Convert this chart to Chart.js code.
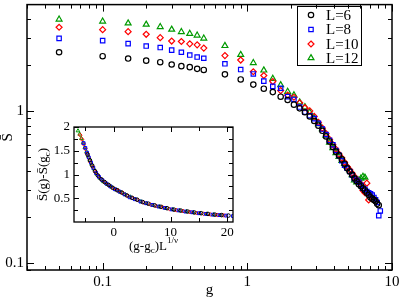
<!DOCTYPE html>
<html><head><meta charset="utf-8">
<script src="https://cdn.jsdelivr.net/npm/chart.js@4"></script>
<style>
html,body{margin:0;padding:0;background:#fff;overflow:hidden;}
#wrap{position:relative;width:399px;height:299px;}
#mainBox{position:absolute;left:0;top:0;width:399px;height:299px;}
#insetBox{position:absolute;left:30px;top:118px;width:212px;height:140px;}
</style></head><body>
<div id="wrap"><div id="mainBox"><canvas id="main"></canvas></div><div id="insetBox"><canvas id="inset"></canvas></div></div>
<script>
// ---------- data ----------
const seriesLabels = ['L=6', 'L=8', 'L=10', 'L=12'];
const gValues = [0.05,0.1,0.15,0.2,0.25,0.3,0.35,0.4,0.45,0.5,
  0.7,0.9,1.1,1.3,1.5,1.7,1.9,2.1,2.3,2.5,2.7,2.9,3.1,3.3,3.5,3.7,3.9,4.1,4.3,4.5,
  4.7,4.9,5.1,5.3,5.5,5.7,5.9,6.1,6.3,6.5,6.7,6.9,7.1,7.3,7.5,7.7,7.9,8.1,8.3];
const sL6 = [2.43,2.29,2.21,2.14,2.09,2.02,1.97,1.94,1.89,1.86,
  1.74,1.61,1.49,1.40,1.33,1.24,1.18,1.10,1.04,0.98,0.92,0.86,0.80,0.74,0.68,0.63,0.58,0.54,0.51,0.48,
  0.45,0.42,0.40,0.38,0.36,0.345,0.33,0.32,0.31,0.30,0.29,0.28,0.27,0.265,0.26,0.255,0.245,0.24,null];
const sL8 = [3.00,2.90,2.77,2.67,2.61,2.51,2.43,2.33,2.26,2.22,
  2.04,1.87,1.75,1.57,1.45,1.41,1.24,1.19,1.06,0.98,0.93,0.89,0.83,0.76,0.70,0.64,0.60,0.55,0.51,0.47,
  0.44,0.42,0.40,0.38,0.36,0.35,0.34,0.325,0.31,0.305,0.295,0.29,0.285,0.28,0.27,0.26,0.25,0.205,0.22];
const sL10 = [3.55,3.42,3.32,3.19,3.03,2.88,2.86,2.76,2.72,2.59,
  2.31,2.16,1.81,1.71,1.56,1.36,1.27,1.23,1.13,1.05,1.00,0.92,0.84,0.77,0.71,0.65,0.60,0.56,0.52,0.49,
  0.46,0.43,0.41,0.39,0.37,0.355,0.34,0.33,0.30,0.29,0.335,0.26,null,null,null,null,null,null,null];
const sL12 = [4.00,3.88,3.77,3.70,3.57,3.43,3.31,3.22,3.14,3.00,
  2.68,2.34,2.07,1.85,1.63,1.48,1.34,1.27,1.14,1.06,0.98,0.90,0.82,0.76,0.69,0.62,0.57,0.53,0.50,0.47,
  0.45,0.43,0.41,0.38,0.35,0.34,0.35,0.36,0.37,0.365,null,null,null,null,null,null,null,null,null];

// inset: scaled variable (g-gc)L^{1/nu} and S(g)-S(gc)
const insetX_L6 = [-4.6,-4.2,-3.8,-3.3,-2.8,-2.2,-1.6,-0.9,-0.2,0.6,1.4,2.3,3.2,4.1,5.1,6.1,7.2,8.3,9.4,10.6,11.8,13.0,14.2,15.4,16.6,17.8,19.0,20.2];
const insetY_L6 = [1.42,1.30,1.19,1.07,0.98,0.90,0.84,0.78,0.72,0.67,0.62,0.56,0.51,0.47,0.42,0.385,0.35,0.32,0.29,0.26,0.24,0.22,0.20,0.185,0.17,0.155,0.145,0.135];
const insetX_L8 = [-5.3,-5.0,-4.7,-4.4,-4.0,-3.6,-3.1,-2.6,-2.0,-1.3,-0.6,0.2,1.0,1.9,2.8,3.7,4.7,5.7,6.8,7.9,9.0,10.2,11.4,12.6,13.8,15.0,16.2,17.4,18.6,19.8,21.0];
const insetY_L8 = [1.66,1.56,1.46,1.36,1.25,1.14,1.03,0.95,0.88,0.81,0.75,0.69,0.64,0.58,0.52,0.48,0.43,0.395,0.36,0.325,0.295,0.265,0.245,0.22,0.205,0.185,0.17,0.155,0.145,0.135,0.125];
const insetX_L10 = [-5.9,-5.6,-5.3,-5.0,-4.7,-4.4,-4.1,-3.7,-3.2,-2.7,-2.1,-1.5,-0.8,0.0,0.8,1.6,2.5,3.4,4.3,5.3,6.4,7.5,8.6,9.8,11.0,12.2,13.4,14.6,15.8,17.0,18.2,19.4];
const insetY_L10 = [1.83,1.74,1.64,1.54,1.44,1.35,1.26,1.16,1.05,0.96,0.89,0.83,0.77,0.71,0.66,0.61,0.55,0.50,0.46,0.41,0.37,0.335,0.31,0.275,0.25,0.23,0.21,0.19,0.175,0.16,0.15,0.14];
const insetX_L12 = [-6.3,-6.0,-5.7,-5.4,-5.1,-4.8,-4.5,-4.2,-3.9,-3.5,-3.0,-2.4,-1.8,-1.1,-0.4,0.4,1.2,2.0,2.9,3.8,4.8,5.8,6.9,8.0,9.2,10.4,11.6,12.8,14.0,15.2,16.4,17.6,18.8];
const insetY_L12 = [1.92,1.85,1.76,1.67,1.57,1.48,1.39,1.30,1.22,1.12,1.01,0.92,0.85,0.79,0.74,0.68,0.63,0.58,0.53,0.48,0.43,0.39,0.355,0.325,0.29,0.265,0.24,0.22,0.20,0.185,0.17,0.155,0.145];

// tick values
const mainXMajor = [0.1, 1, 10];
const mainXMinor = [0.03,0.04,0.05,0.06,0.07,0.08,0.09,0.2,0.3,0.4,0.5,0.6,0.7,0.8,0.9,2,3,4,5,6,7,8,9];
const mainYMajor = [0.1, 1];
const mainYMinor = [0.09,0.2,0.3,0.4,0.5,0.6,0.7,0.8,0.9,2,3,4];
const insetXMajor = [0, 10, 20];
const insetXMinor = [-5, 5, 15];
const insetYMajor = [0.5, 1, 1.5, 2];
const insetYMinor = [0.25, 0.75, 1.25, 1.75];

// ---------- styling ----------
const SERIF = "'Liberation Serif','Times New Roman','DejaVu Serif',serif";
const styles = [
  {color:'#000000', pointStyle:'circle',   r:2.7, ri:1.8},
  {color:'#0000ff', pointStyle:'rect',     r:3.1, ri:2.0},
  {color:'#ff0000', pointStyle:'rectRot',  r:3.0, ri:1.9},
  {color:'#009a00', pointStyle:'triangle', r:3.4, ri:2.1}
];
const mainSeries = [sL6, sL8, sL10, sL12];
const insetSeries = [[insetX_L6,insetY_L6],[insetX_L8,insetY_L8],[insetX_L10,insetY_L10],[insetX_L12,insetY_L12]];

function pts(xs, ys){ const o=[]; xs.forEach((x,i)=>{ if(ys[i]!=null) o.push({x:x,y:ys[i]}); }); return o; }

function frameTicksPlugin(id){
  return {
    id: id,
    afterDatasetsDraw(chart, args, o){
      const ctx = chart.ctx, a = chart.chartArea, xs = chart.scales.x, ys = chart.scales.y;
      ctx.save();
      ctx.strokeStyle = '#000';
      ctx.lineWidth = o.tw;
      ctx.beginPath();
      const xt = o.xMajor.map(v=>[v,o.maj]).concat(o.xMinor.map(v=>[v,o.min]));
      const yt = o.yMajor.map(v=>[v,o.maj]).concat(o.yMinor.map(v=>[v,o.min]));
      xt.forEach(([v,L])=>{ const p = Math.round(xs.getPixelForValue(v))+0.5;
        if (p < a.left-0.5 || p > a.right+0.5) return;
        ctx.moveTo(p,a.bottom); ctx.lineTo(p,a.bottom-L); ctx.moveTo(p,a.top); ctx.lineTo(p,a.top+L); });
      yt.forEach(([v,L])=>{ const p = Math.round(ys.getPixelForValue(v))+0.5;
        if (p < a.top-0.5 || p > a.bottom+0.5) return;
        ctx.moveTo(a.left,p); ctx.lineTo(a.left+L,p); ctx.moveTo(a.right,p); ctx.lineTo(a.right-L,p); });
      ctx.stroke();
      ctx.lineWidth = o.lw;
      ctx.strokeRect(a.left, a.top, a.right-a.left, a.bottom-a.top);
      ctx.restore();
    }
  };
}

function drawMarker(ctx, style, x, y, r){
  ctx.beginPath();
  if (style==='circle'){ ctx.arc(x,y,r,0,Math.PI*2); }
  else if (style==='rect'){ const s=r*Math.SQRT1_2; ctx.rect(x-s,y-s,2*s,2*s); }
  else if (style==='rectRot'){ ctx.moveTo(x,y-r); ctx.lineTo(x+r,y); ctx.lineTo(x,y+r); ctx.lineTo(x-r,y); ctx.closePath(); }
  else { const w=r*Math.sin(Math.PI/3); ctx.moveTo(x,y-r); ctx.lineTo(x+w,y+r/2); ctx.lineTo(x-w,y+r/2); ctx.closePath(); }
  ctx.stroke();
}

const mainDecor = {
  id: 'mainDecor',
  afterDraw(chart){
    const ctx = chart.ctx, a = chart.chartArea;
    ctx.save();
    ctx.fillStyle = '#000';
    ctx.font = '15px ' + SERIF;
    // x title
    ctx.textAlign = 'center'; ctx.textBaseline = 'alphabetic';
    ctx.fillText('g', (a.left+a.right)/2, 294);
    // y title
    ctx.save();
    ctx.translate(12, (a.top+a.bottom)/2);
    ctx.rotate(-Math.PI/2);
    ctx.fillText('S\u0304', 0, 0);
    ctx.restore();
    // legend
    ctx.lineWidth = 1;
    ctx.strokeStyle = '#000';
    ctx.strokeRect(297.5, 6.5, 64, 59);
    const ly = [15, 29.5, 44, 58];
    ctx.textAlign = 'left'; ctx.textBaseline = 'middle';
    chart.data.datasets.forEach((ds,i)=>{
      ctx.strokeStyle = styles[i].color; ctx.lineWidth = 1.2;
      drawMarker(ctx, styles[i].pointStyle, 311, ly[i], styles[i].r);
      ctx.fillStyle = '#000';
      ctx.fillText(ds.label, 326, ly[i]+1);
    });
    ctx.restore();
  }
};

const insetDecor = {
  id: 'insetDecor',
  afterDraw(chart){
    const ctx = chart.ctx, a = chart.chartArea;
    ctx.save();
    ctx.fillStyle = '#000';
    ctx.textBaseline = 'alphabetic';
    const big = '13px ' + SERIF, small = '9px ' + SERIF;
    function rich(parts){
      let w = 0;
      parts.forEach(p=>{ ctx.font = p.s ? small : big; p.w = ctx.measureText(p.t).width; w += p.w; });
      return w;
    }
    function drawRich(parts, x0, y0){
      let x = x0;
      parts.forEach(p=>{ ctx.font = p.s ? small : big; ctx.textAlign='left'; ctx.fillText(p.t, x, y0 + (p.dy||0)); x += p.w; });
    }
    const xt = [{t:'(g-g'},{t:'c',s:1,dy:3},{t:')L'},{t:'1/\u03bd',s:1,dy:-7}];
    const wx = rich(xt);
    drawRich(xt, (a.left+a.right)/2 - wx/2, 132);
    const yt = [{t:'S\u0304(g)-S\u0304(g'},{t:'c',s:1,dy:3},{t:')'}];
    const wy = rich(yt);
    ctx.save();
    ctx.translate(17, (a.top+a.bottom)/2);
    ctx.rotate(-Math.PI/2);
    drawRich(yt, -wy/2, 0);
    ctx.restore();
    ctx.restore();
  }
};

// ---------- main chart ----------
new Chart(document.getElementById('main'), {
  type: 'scatter',
  data: { datasets: mainSeries.map((s,i)=>({
    label: seriesLabels[i], data: pts(gValues, s), showLine:false,
    pointStyle: styles[i].pointStyle, pointRadius: styles[i].r, pointHoverRadius: styles[i].r,
    pointBorderColor: styles[i].color, pointBackgroundColor: 'rgba(0,0,0,0)', pointBorderWidth: 1.2,
    borderColor: styles[i].color, backgroundColor:'rgba(0,0,0,0)'
  })) },
  options: {
    responsive: true, maintainAspectRatio: false, animation: false,
    layout: { padding: { left: 0, right: 7, top: 1, bottom: 0 } },
    plugins: {
      legend: { display: false }, tooltip: { enabled: false },
      mainTicks: { xMajor: mainXMajor, xMinor: mainXMinor, yMajor: mainYMajor, yMinor: mainYMinor, maj: 7, min: 4, lw: 1.5, tw: 1 }
    },
    scales: {
      x: { type: 'logarithmic', min: 0.03, max: 10,
        grid: { display: false, drawTicks: false }, border: { display: false },
        ticks: { font: { family: SERIF, size: 15 }, color: '#000', padding: 3, maxRotation: 0, autoSkip: false, callback: v => String(v) },
        afterBuildTicks: s => { s.ticks = mainXMajor.map(v=>({value:v})); },
        afterFit: s => { s.height = 29; s.paddingLeft = 0; s.paddingRight = 0; } },
      y: { type: 'logarithmic', min: 0.09, max: 5,
        grid: { display: false, drawTicks: false }, border: { display: false },
        ticks: { font: { family: SERIF, size: 15 }, color: '#000', padding: 3, autoSkip: false, callback: v => String(v) },
        afterBuildTicks: s => { s.ticks = mainYMajor.map(v=>({value:v})); },
        afterFit: s => { s.width = 27; s.paddingTop = 0; s.paddingBottom = 0; } }
    }
  },
  plugins: [frameTicksPlugin('mainTicks'), mainDecor]
});

// ---------- inset chart ----------
new Chart(document.getElementById('inset'), {
  type: 'scatter',
  data: { datasets: insetSeries.map((s,i)=>({
    label: seriesLabels[i], data: pts(s[0], s[1]), showLine:false,
    pointStyle: styles[i].pointStyle, pointRadius: styles[i].ri, pointHoverRadius: styles[i].ri,
    pointBorderColor: styles[i].color, pointBackgroundColor: 'rgba(0,0,0,0)', pointBorderWidth: 1,
    borderColor: styles[i].color, backgroundColor:'rgba(0,0,0,0)'
  })) },
  options: {
    responsive: true, maintainAspectRatio: false, animation: false,
    layout: { padding: { left: 0, right: 9, top: 9, bottom: 0 } },
    plugins: {
      legend: { display: false }, tooltip: { enabled: false },
      insetTicks: { xMajor: insetXMajor, xMinor: insetXMinor, yMajor: insetYMajor, yMinor: insetYMinor, maj: 5, min: 4, lw: 1.3, tw: 1 }
    },
    scales: {
      x: { type: 'linear', min: -7, max: 21,
        grid: { display: false, drawTicks: false }, border: { display: false },
        ticks: { font: { family: SERIF, size: 13 }, color: '#000', padding: 3, maxRotation: 0, autoSkip: false, callback: v => String(v) },
        afterBuildTicks: s => { s.ticks = insetXMajor.map(v=>({value:v})); },
        afterFit: s => { s.height = 36; s.paddingLeft = 0; s.paddingRight = 0; } },
      y: { type: 'linear', min: 0, max: 2,
        grid: { display: false, drawTicks: false }, border: { display: false },
        ticks: { font: { family: SERIF, size: 13 }, color: '#000', padding: 4, autoSkip: false, callback: v => String(v) },
        afterBuildTicks: s => { s.ticks = insetYMajor.map(v=>({value:v})); },
        afterFit: s => { s.width = 44; s.paddingTop = 0; s.paddingBottom = 0; } }
    }
  },
  plugins: [frameTicksPlugin('insetTicks'), insetDecor]
});
</script>
</body></html>
